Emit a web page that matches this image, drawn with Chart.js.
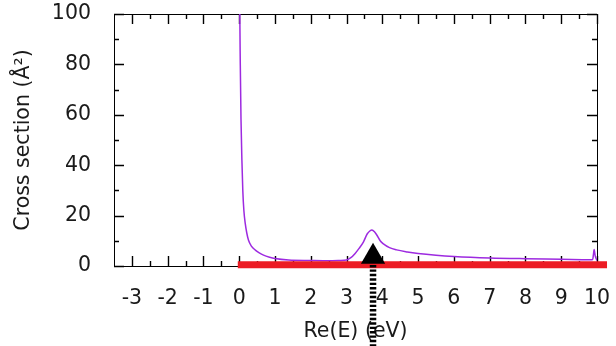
<!DOCTYPE html>
<html lang="en">
<head>
    <meta charset="UTF-8">
    <title>Cross section</title>
    <script src="https://cdn.jsdelivr.net/npm/chart.js"></script>
    <style>
        html, body { margin: 0; padding: 0; background: #fff; }
        #wrap { width: 616px; height: 346px; }
    </style>
</head>
<body>
    <div id="wrap"><canvas id="chartCross"></canvas></div>

    <script>
        // cross section curve (E in eV, sigma in A^2)
        let energy = [0.0, 0.01, 0.03, 0.05, 0.075, 0.1, 0.13, 0.17, 0.21, 0.26, 0.34, 0.45, 0.56, 0.68, 0.85, 1.0, 1.38, 2.0, 2.5, 2.8,
                      3.0, 3.12, 3.24, 3.35, 3.47, 3.58, 3.65, 3.71, 3.78, 3.85, 3.94, 4.03, 4.2, 4.4, 4.7, 5.0, 5.5,
                      6.0, 7.0, 8.0, 9.0, 9.8, 9.88, 9.9, 9.92, 9.95, 10.0];
        let sigma  = [140, 110, 80, 58, 42, 30, 22, 16.7, 13.2, 10.2, 7.9, 6.3, 5.2, 4.3, 3.5, 3.0, 2.4, 2.2, 2.1, 2.2,
                      2.4, 3.3, 5.0, 7.0, 9.5, 12.8, 13.9, 14.3, 13.6, 12.2, 10.0, 8.8, 7.3, 6.4, 5.6, 5.0, 4.3,
                      3.8, 3.2, 2.9, 2.7, 2.5, 2.6, 4.5, 6.5, 4.0, 2.2];

        // red bar along the axis and the dotted arrow
        let barE = [-0.04, 10.28];
        let barY = [0.5, 0.5];
        let arrowE = 3.74;
        let arrowLineY = [-32, 1];
        let arrowHeadY = 3.7;

        let xTicks = [-3, -2, -1, 0, 1, 2, 3, 4, 5, 6, 7, 8, 9, 10];
        let xMinor = [-2.5, -1.5, -0.5, 0.5, 1.5, 2.5, 3.5, 4.5, 5.5, 6.5, 7.5, 8.5, 9.5];
        let yTicks = [0, 20, 40, 60, 80, 100];
        let yMinor = [10, 30, 50, 70, 90];

        // gnuplot-like frame with inward ticks on all four sides
        const frameTicks = {
            id: "frameTicks",
            beforeDatasetsDraw(chart) {
                let ctx = chart.ctx;
                let a = chart.chartArea;
                let x = chart.scales.x, y = chart.scales.y;
                ctx.save();
                ctx.strokeStyle = "#000";
                ctx.lineWidth = 1;
                ctx.strokeRect(Math.round(a.left) + 0.5, Math.round(a.top) + 0.5,
                               Math.round(a.right - a.left), Math.round(a.bottom - a.top));
                ctx.lineWidth = 1.4;
                ctx.beginPath();
                function xt(v, len) {
                    let px = Math.round(x.getPixelForValue(v)) + 0.5;
                    ctx.moveTo(px, a.bottom); ctx.lineTo(px, a.bottom - len);
                    ctx.moveTo(px, a.top); ctx.lineTo(px, a.top + len);
                }
                function yt(v, len) {
                    let py = Math.round(y.getPixelForValue(v)) + 0.5;
                    ctx.moveTo(a.left, py); ctx.lineTo(a.left + len, py);
                    ctx.moveTo(a.right, py); ctx.lineTo(a.right - len, py);
                }
                xTicks.forEach(v => xt(v, 10));
                xMinor.forEach(v => xt(v, 5));
                yTicks.forEach(v => yt(v, 10));
                yMinor.forEach(v => yt(v, 5));
                ctx.stroke();
                ctx.restore();
            }
        };

        let font = { family: "DejaVu Sans", size: 20.5 };

        new Chart(document.getElementById("chartCross").getContext("2d"), {
            type: "line",
            data: {
                datasets: [{
                    data: energy.map((e, i) => ({ x: e, y: sigma[i] })),
                    borderColor: "#9d2ae0",
                    borderWidth: 1.5,
                    pointRadius: 0,
                    cubicInterpolationMode: "monotone",
                    order: 3
                }, {
                    data: barE.map((e, i) => ({ x: e, y: barY[i] })),
                    borderColor: "#ec1c24",
                    borderWidth: 7,
                    pointRadius: 0,
                    clip: false,
                    order: 2
                }, {
                    data: arrowLineY.map(v => ({ x: arrowE, y: v })),
                    borderColor: "#000",
                    borderWidth: 6.5,
                    borderDash: [2.4, 2],
                    borderCapStyle: "butt",
                    pointRadius: 0,
                    clip: false,
                    order: 1
                }, {
                    data: [{ x: arrowE, y: arrowHeadY }],
                    showLine: false,
                    pointStyle: "triangle",
                    pointRadius: 14,
                    pointBackgroundColor: "#000",
                    pointBorderWidth: 0,
                    clip: false,
                    order: 0
                }]
            },
            options: {
                responsive: true,
                maintainAspectRatio: false,
                animation: false,
                events: [],
                layout: { padding: { top: 11, right: 19, left: 0, bottom: 0 } },
                plugins: { legend: { display: false }, tooltip: { enabled: false } },
                scales: {
                    x: {
                        type: "linear",
                        min: -3.5,
                        max: 10,
                        grid: { display: false },
                        border: { display: false },
                        afterBuildTicks: s => { s.ticks = xTicks.map(v => ({ value: v })); },
                        afterFit: s => { s.height = 80; s.paddingLeft = 0; s.paddingRight = 0; },
                        ticks: { font: font, color: "#1a1a1a", padding: 12.5, maxRotation: 0, autoSkip: false },
                        title: { display: true, text: "Re(E) (eV)", font: font, color: "#1a1a1a", padding: { top: 0, bottom: 2.5 } }
                    },
                    y: {
                        type: "linear",
                        min: 0,
                        max: 100,
                        grid: { display: false },
                        border: { display: false },
                        afterBuildTicks: s => { s.ticks = yTicks.map(v => ({ value: v })); },
                        afterFit: s => { s.width = 114; s.paddingTop = 0; s.paddingBottom = 0; },
                        ticks: { font: font, color: "#1a1a1a", padding: 15 },
                        title: { display: true, text: "Cross section (Å²)", font: font, color: "#1a1a1a", padding: { top: 11.5, bottom: 0 } }
                    }
                }
            },
            plugins: [frameTicks]
        });
    </script>
</body>
</html>
